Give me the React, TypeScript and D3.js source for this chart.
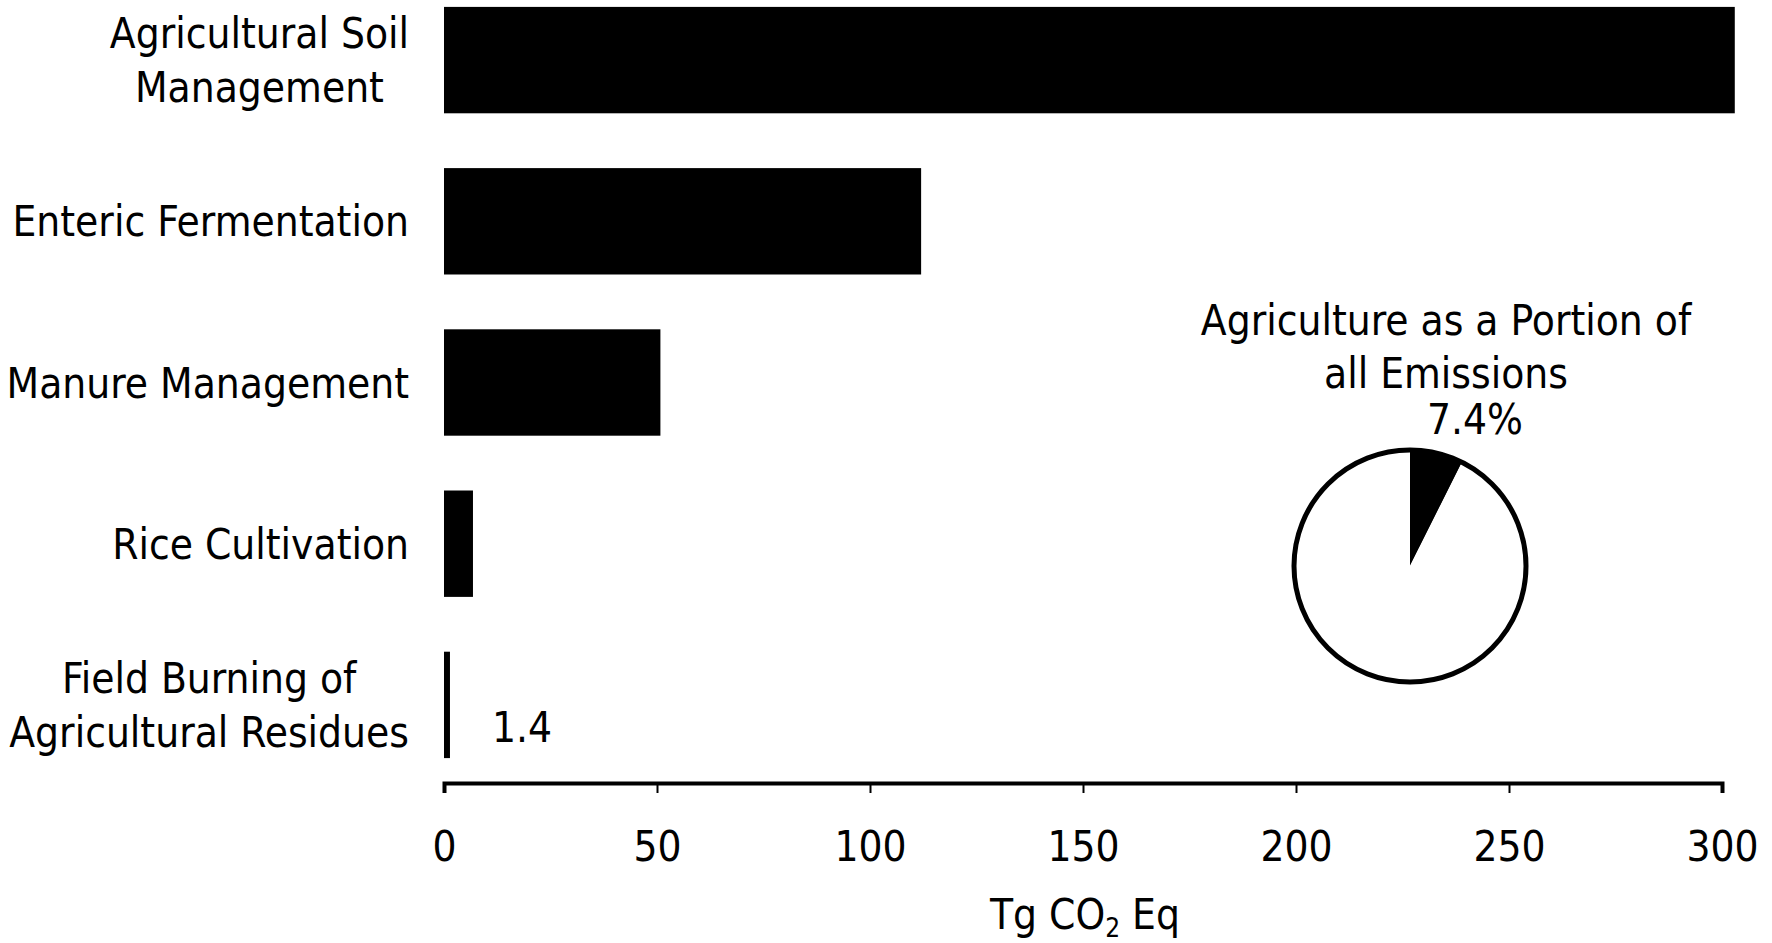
import React, { useEffect, useRef } from "react";
import * as d3 from "d3";

const categories: string[][] = [
  ["Agricultural Soil", "Management"],
  ["Enteric Fermentation"],
  ["Manure Management"],
  ["Rice Cultivation"],
  ["Field Burning of", "Agricultural Residues"],
];
const values: number[] = [303, 112, 50.8, 6.8, 1.4];
const xTicks: number[] = [0, 50, 100, 150, 200, 250, 300];
const valueLabelIndex = 4;
const valueLabelText = "1.4";
const pieTitle: string[] = ["Agriculture as a Portion of", "all Emissions"];
const pieShare = 7.4;

const W = 1772;
const H = 943;
const FONT = "'DejaVu Sans Condensed', 'DejaVu Sans', sans-serif";
const FS = 42;

export default function App() {
  const ref = useRef<SVGSVGElement | null>(null);

  useEffect(() => {
    const svg = d3.select(ref.current);
    svg.selectAll("*").remove();

    const x = d3.scaleLinear().domain([0, 300]).range([444, 1722]);
    const y = d3
      .scaleBand<number>()
      .domain(values.map((_, i) => i))
      .range([-20.5, 785.5])
      .paddingInner(0.34)
      .paddingOuter(0.17);

    const g = svg
      .append("g")
      .attr("font-family", FONT)
      .attr("font-stretch", "condensed")
      .attr("font-size", FS)
      .attr("fill", "#000");

    // bars
    g.selectAll("rect.bar")
      .data(values)
      .join("rect")
      .attr("class", "bar")
      .attr("x", x(0))
      .attr("y", (_, i) => y(i)!)
      .attr("width", (d) => Math.max(4, x(d) - x(0)))
      .attr("height", y.bandwidth())
      .attr("fill", "#000");

    // category labels
    const labelRight = 409;
    const lineGap = 54;
    categories.forEach((lines, i) => {
      const cy = y(i)! + y.bandwidth() / 2;
      const tg = g.append("g");
      lines.forEach((ln, j) => {
        const off = (j - (lines.length - 1) / 2) * lineGap;
        tg.append("text")
          .attr("x", 0)
          .attr("y", cy + off + 15)
          .attr("text-anchor", "middle")
          .text(ln);
      });
      const node = tg.node() as SVGGElement;
      const bb = node.getBBox();
      tg.attr("transform", `translate(${labelRight - (bb.x + bb.width)},0)`);
    });

    // value label
    g.append("text")
      .attr("x", x(values[valueLabelIndex]) + 42)
      .attr("y", y(valueLabelIndex)! + y.bandwidth() / 2 + 37)
      .text(valueLabelText);

    // x axis
    const axisY = 783;
    const axis = d3
      .axisBottom(x)
      .tickValues(xTicks)
      .tickSize(10)
      .tickPadding(16)
      .tickFormat((d) => String(d));
    const ag = g
      .append("g")
      .attr("transform", `translate(0,${axisY})`)
      .call(axis);
    ag.select(".domain").attr("stroke", "#000").attr("stroke-width", 4);
    ag.selectAll(".tick line").attr("stroke", "#000").attr("stroke-width", 2);
    ag.selectAll(".tick text")
      .attr("font-family", FONT)
      .attr("font-stretch", "condensed")
      .attr("font-size", FS)
      .attr("fill", "#000")
      .attr("dy", null)
      .attr("y", 78);
    ag.attr("font-family", null).attr("font-size", null);

    // axis title
    const t = g
      .append("text")
      .attr("x", (x(0) + x(300)) / 2 + 2)
      .attr("y", 929)
      .attr("text-anchor", "middle");
    t.append("tspan").text("Tg CO");
    t.append("tspan").attr("font-size", FS * 0.62).attr("dy", 8).text("2");
    t.append("tspan").attr("dy", -8).text(" Eq");

    // pie
    const cx = 1410;
    const cyP = 566;
    const r = 116;
    const pg = g.append("g").attr("transform", `translate(${cx},${cyP})`);
    const pieData = d3
      .pie<number>()
      .sort(null)
      .value((d) => d)([pieShare, 100 - pieShare]);
    const arc = d3.arc<d3.PieArcDatum<number>>().innerRadius(0).outerRadius(r);
    pg.selectAll("path")
      .data(pieData)
      .join("path")
      .attr("d", arc)
      .attr("fill", (_, i) => (i === 0 ? "#000" : "#fff"))
      .attr("stroke", "none");
    pg.append("circle")
      .attr("r", r)
      .attr("fill", "none")
      .attr("stroke", "#000")
      .attr("stroke-width", 5);

    // pie titles
    pieTitle.forEach((ln, j) => {
      g.append("text")
        .attr("x", 1446)
        .attr("y", 335 + j * 53)
        .attr("text-anchor", "middle")
        .text(ln);
    });
    g.append("text")
      .attr("x", 1475)
      .attr("y", 434)
      .attr("text-anchor", "middle")
      .text(`${pieShare}%`);
  }, []);

  return (
    <svg
      ref={ref}
      width={W}
      height={H}
      style={{ position: "absolute", left: 0, top: 0, background: "#fff" }}
    />
  );
}
